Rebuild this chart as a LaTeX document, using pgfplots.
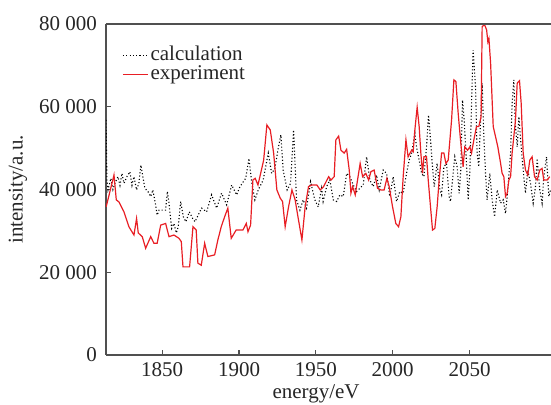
\documentclass[border=0pt]{standalone}
\usepackage{pgfplots}
\pgfplotsset{compat=1.18}
\usepackage{fontspec}
\setmainfont{Liberation Serif}
\usetikzlibrary{calc}

\definecolor{expred}{RGB}{232,30,36}
\definecolor{axgray}{RGB}{80,80,80}

% calculated spectrum
\pgfplotstableread{
x y
1813.4 56800
1814.0 42300
1814.7 39900
1816.6 42700
1817.9 40000
1819.2 41500
1821.2 43100
1822.5 41000
1823.8 43900
1825.1 41500
1827.0 43100
1829.0 44300
1830.3 41000
1831.6 43100
1833.3 39900
1834.8 41500
1836.1 45900
1837.4 43100
1838.7 40300
1840.7 39500
1842.5 38300
1843.9 39900
1845.7 36300
1846.7 33800
1847.9 35000
1850.0 35000
1852.2 35000
1853.3 39500
1854.4 36700
1856.1 30600
1857.6 31800
1859.2 29500
1860.4 31000
1862.0 37100
1863.7 33400
1865.4 32200
1867.6 34600
1869.8 33000
1871.3 32200
1873.4 33800
1875.6 35500
1878.9 34600
1882.1 38700
1885.4 35500
1888.6 39100
1891.9 36300
1895.2 41100
1898.4 38700
1900.6 40700
1904.3 42700
1906.4 47500
1908.2 41900
1910.3 37500
1912.5 39900
1915.7 42300
1919.0 48800
1921.2 43900
1923.3 45100
1925.5 50000
1927.2 53200
1928.7 44700
1931.3 39900
1933.5 41500
1935.5 54400
1937.4 37500
1939.6 35000
1941.7 37500
1943.9 35500
1946.5 41900
1949.3 37500
1951.5 35800
1953.7 40300
1954.7 37100
1957.0 40700
1959.1 42300
1961.3 37500
1963.5 37100
1965.6 38700
1967.8 38300
1970.0 43900
1972.1 43100
1974.3 41100
1976.5 39500
1978.6 40300
1980.8 41100
1983.0 47900
1985.1 42300
1987.3 40700
1989.5 43500
1991.2 39900
1993.8 44700
1996.0 43900
1998.1 38300
2000.3 43100
2002.5 37100
2004.6 39500
2006.8 39100
2009.0 43900
2010.7 47100
2012.3 48800
2014.4 53600
2015.5 50300
2017.2 47100
2018.8 43900
2020.3 43100
2022.0 50300
2023.3 58000
2024.6 52000
2025.7 46300
2027.0 40700
2028.9 46300
2030.7 39900
2031.8 38700
2033.3 45500
2035.0 46300
2036.7 38300
2037.6 37100
2038.9 42300
2040.4 47900
2041.9 45500
2043.2 39100
2044.3 44700
2045.4 61600
2046.5 56800
2048.0 46300
2049.1 37500
2050.2 44700
2051.3 60800
2052.3 73700
2053.9 64800
2054.9 48800
2056.0 45500
2057.2 56800
2058.2 65700
2059.3 52800
2060.4 43900
2061.4 37500
2063.2 43900
2064.7 37500
2066.3 33400
2068.0 39900
2070.2 36700
2071.9 37500
2073.4 34200
2074.5 38300
2076.7 48800
2077.7 60800
2078.8 66500
2079.9 55200
2081.0 50300
2082.1 57600
2083.6 50300
2085.3 43100
2086.4 39100
2087.9 44700
2089.7 41500
2091.4 36700
2092.9 40700
2094.0 47500
2095.7 39900
2097.2 36700
2098.3 43100
2100.1 47900
2101.6 38300
2102.7 39900
}\calctable

% measured spectrum
\pgfplotstableread{
x y
1813.5 35800
1818.6 43500
1820.1 37500
1821.8 37000
1825.1 34600
1828.3 31000
1831.6 29000
1833.3 33000
1834.4 29500
1837.0 28600
1839.2 25800
1842.5 28600
1844.6 27000
1846.7 27000
1849.0 31400
1852.2 31800
1854.4 28600
1857.6 29000
1860.9 28200
1862.4 27400
1863.5 21300
1867.8 21300
1870.0 31000
1872.1 30200
1873.2 22200
1875.4 21700
1877.6 27000
1879.7 23800
1884.1 24200
1886.2 27800
1888.4 31000
1890.6 33400
1892.7 35500
1894.9 28200
1898.1 30200
1902.5 30200
1904.7 31800
1905.8 29800
1907.5 31400
1909.0 42300
1910.5 42700
1912.3 41100
1913.8 43500
1916.0 47100
1918.1 55600
1920.3 54400
1922.5 48800
1924.6 39900
1926.8 37900
1928.3 37100
1930.0 31000
1932.2 35800
1934.4 39900
1936.5 37500
1938.7 32600
1940.9 27800
1943.0 35800
1945.2 40700
1947.4 41100
1950.6 41100
1952.8 39900
1955.0 40700
1957.2 42300
1958.3 43100
1959.8 42300
1961.9 43100
1963.0 52000
1964.8 52900
1966.3 49500
1968.4 48800
1970.0 49700
1971.7 44700
1972.8 39100
1973.9 40700
1975.6 38700
1977.1 42300
1978.8 46300
1980.4 43100
1982.5 43900
1984.3 42300
1985.8 44300
1987.9 44700
1990.1 40300
1992.3 39900
1994.4 39900
1996.2 42700
1997.7 40700
1999.9 35800
2002.0 31800
2003.8 31000
2005.3 33400
2006.8 43100
2008.6 52000
2010.0 47900
2012.3 49500
2013.3 49100
2014.4 54400
2015.9 59900
2017.2 55200
2018.3 48800
2019.4 43900
2020.3 47900
2022.0 47900
2023.1 42300
2024.2 37500
2025.9 30200
2027.4 30600
2028.9 35800
2030.2 42300
2031.8 48800
2033.3 48800
2034.6 46300
2036.1 47100
2038.3 56800
2039.8 66500
2041.1 66100
2042.6 58400
2044.1 52000
2045.8 45500
2046.9 50300
2048.7 49500
2050.2 50300
2051.3 48800
2052.8 52000
2054.5 55200
2056.0 55200
2057.5 57600
2058.2 79400
2059.8 79800
2061.1 78600
2061.9 75700
2062.6 76500
2063.7 70500
2065.4 55200
2066.9 52800
2068.4 50300
2070.2 46300
2071.2 43900
2072.3 43100
2073.4 38300
2074.5 39100
2075.6 42300
2076.7 43100
2077.7 48800
2078.8 52800
2079.9 56800
2081.0 65700
2082.5 66300
2083.6 60800
2084.9 48800
2086.4 44700
2087.9 43500
2089.2 47100
2090.7 47900
2092.3 43100
2094.0 42300
2095.7 44700
2097.2 45100
2098.3 42300
2100.5 42300
2102.2 43100
}\exptable

\begin{document}
\begin{tikzpicture}
\begin{axis}[
    name=ax,
    at={(0,0)}, anchor=south west,
    scale only axis,
    width=222.5pt, height=165.5pt,
    xmin=1813.4, xmax=2103,
    ymin=0, ymax=80000,
    xtick={1850,1900,1950,2000,2050},
    ytick={0,20000,40000,60000,80000},
    scaled y ticks=false,
    /pgf/number format/assume math mode=true,
    xticklabel style={/pgf/number format/1000 sep={}},
    yticklabel style={/pgf/number format/1000 sep={\ }, xshift=-1pt},
    axis lines*=left,
    axis line style={-, axgray, line width=0.75pt},
    tick align=inside,
    tick pos=left,
    major tick length=2.5pt,
    tick style={axgray, line width=0.6pt},
    tick label style={font=\fontsize{10.5}{12}\selectfont, text=black!85},
    label style={font=\fontsize{10.5}{12}\selectfont, text=black!85},
    xlabel={energy/eV},
    ylabel={intensity/a.u.},
    xlabel style={at={(rel axis cs:0.472,0)}, anchor=north, yshift=-11.5pt},
    ylabel style={at={(rel axis cs:0,0.5)}, anchor=center, yshift=44pt},
    clip mode=individual,
    legend cell align=left,
    legend image code/.code={\draw[#1] (0pt,0pt) -- (12.5pt,0pt);},
    legend style={
        at={(rel axis cs:0,1)}, anchor=north west,
        xshift=5pt, yshift=-8pt,
        draw=none, fill=none,
        font=\fontsize{10.5}{12}\selectfont,
        nodes={inner sep=1pt, text=black!85},
        row sep=-1pt,
    },
]
\addplot[black, line width=0.55pt, dash pattern=on 0.55pt off 1.1pt] table[x=x, y=y] {\calctable};
\addlegendentry{calculation}
\addplot[expred, line width=0.6pt] table[x=x, y=y] {\exptable};
\addlegendentry{experiment}
\draw[axgray, line width=0.75pt] (rel axis cs:0,1) -- (rel axis cs:1,1);
\end{axis}
\pgfresetboundingbox
\useasboundingbox ($(ax.south west)+(-53pt,-25pt)$) rectangle ($(ax.south west)+(222.5pt,177.5pt)$);
\end{tikzpicture}
\end{document}
